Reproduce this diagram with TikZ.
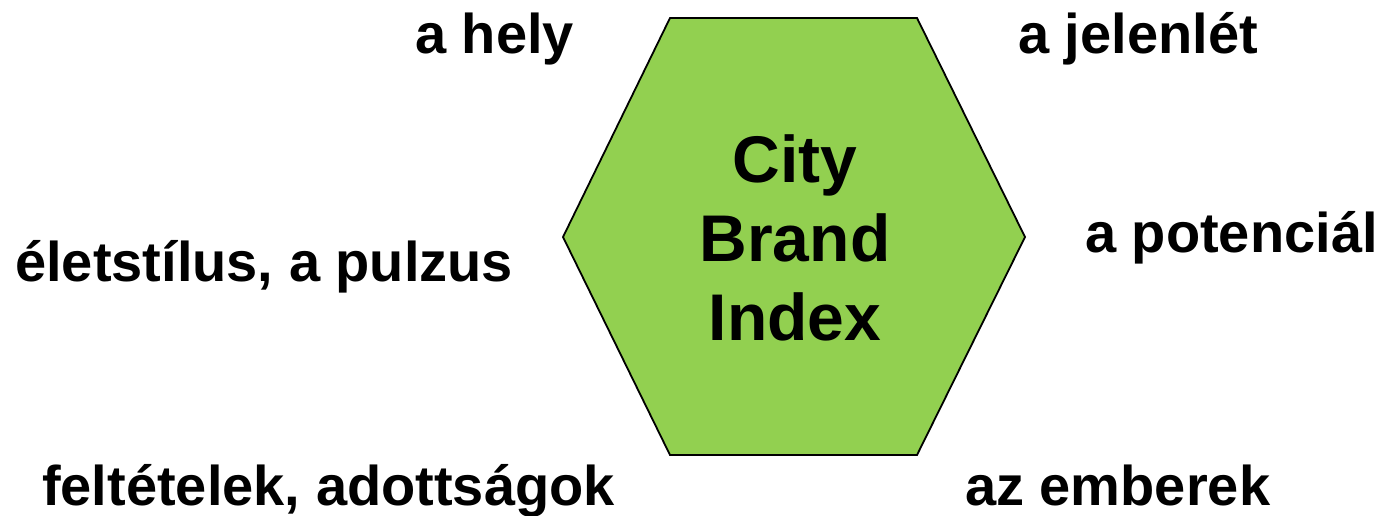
\documentclass[tikz,border=0pt]{standalone}
\usepackage{fontspec}
\setmainfont{Liberation Sans}
\begin{document}
\begin{tikzpicture}[x=1pt,y=-1pt,
  label/.style={anchor=base west,inner sep=0pt,font=\fontsize{56}{64}\selectfont\bfseries},
  hexfill/.style={fill=hexgreen,draw=black,line width=1.8pt,line join=miter}]
\definecolor{hexgreen}{HTML}{92D050}
\useasboundingbox (0,0) rectangle (1380,515);
% central hexagon
\coordinate (h1) at (670,18);
\coordinate (h2) at (917,18);
\coordinate (h3) at (1025,237);
\coordinate (h4) at (917,455);
\coordinate (h5) at (670,455);
\coordinate (h6) at (563,237);
\draw[hexfill] (h1) -- (h2) -- (h3) -- (h4) -- (h5) -- (h6) -- cycle;
\node[align=center,inner sep=0pt,font=\fontsize{66}{79}\selectfont\bfseries] (title) at (795,238) {City\\Brand\\Index};
% surrounding labels
\node[label] (hely) at (415,53) {a hely};
\node[label] (jelenlet) at (1018,53) {a jelenlét};
\node[label] (eletstilus) at (15,281) {életstílus, a pulzus};
\node[label] (potencial) at (1085,252) {a potenciál};
\node[label] (feltetelek) at (42,505) {feltételek, adottságok};
\node[label] (emberek) at (965,505) {az emberek};
\end{tikzpicture}
\end{document}
